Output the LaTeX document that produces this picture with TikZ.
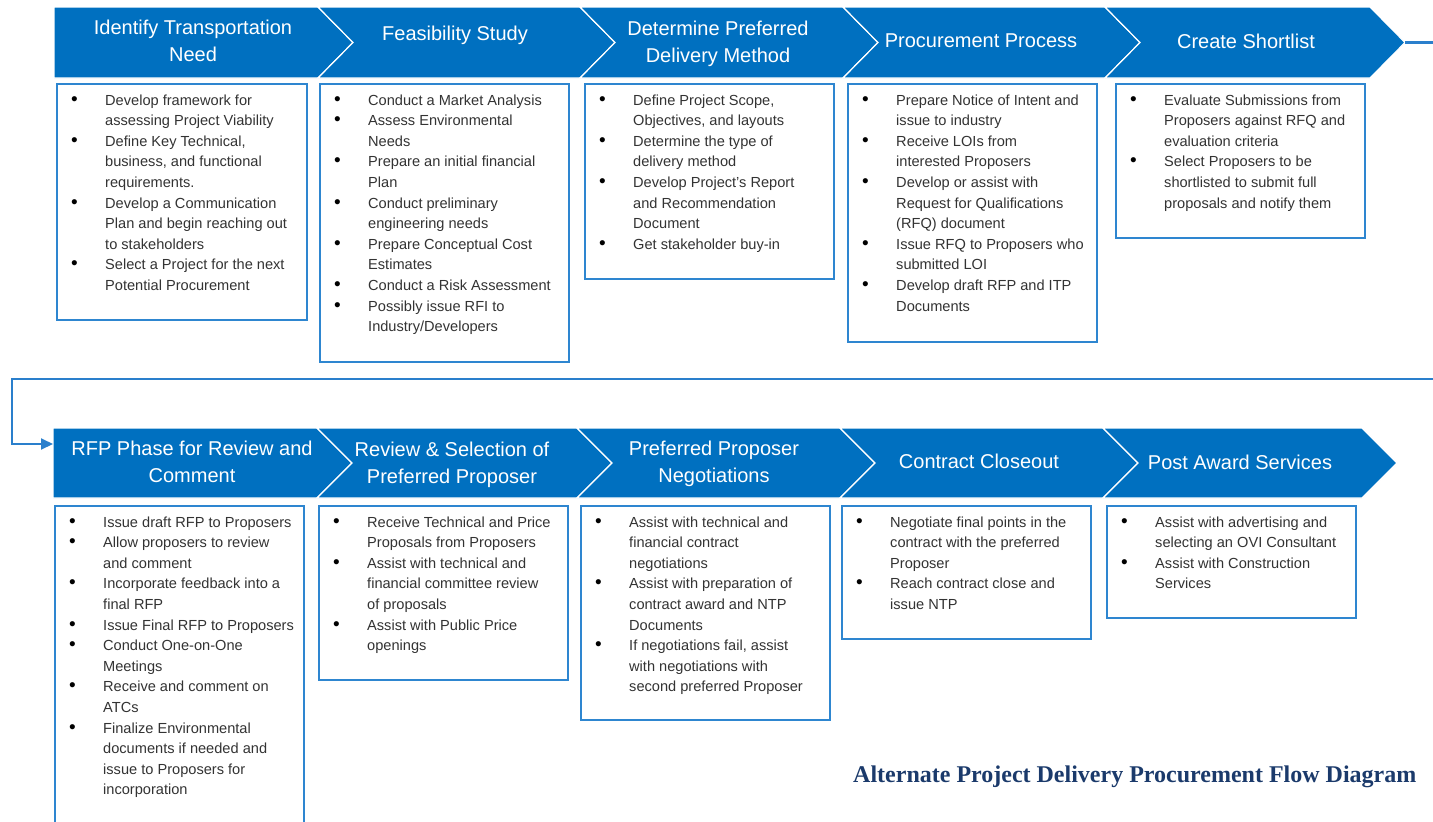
\documentclass[tikz,border=0pt]{standalone}
\usepackage{fontspec}
\setmainfont{Liberation Sans}
\newfontfamily\titlefont{Liberation Serif}
\usetikzlibrary{arrows.meta}

\definecolor{chevblue}{HTML}{0070C0}
\definecolor{boxline}{HTML}{2E86D0}
\definecolor{bodytext}{HTML}{333333}
\definecolor{titlenavy}{HTML}{1B3A6B}
\definecolor{flowblue}{HTML}{2A7FCC}

\tikzset{
  chevstyle/.style={fill=chevblue, draw=white, line width=1.2pt, line join=miter},
  hdrtext/.style={inner sep=0pt, text=white, font=\fontsize{20}{27}\selectfont},
  boxstyle/.style={draw=boxline, line width=1.4pt, fill=white},
  bodystyle/.style={inner sep=0pt, text=bodytext, font=\fontsize{14.6}{20.6}\selectfont},
  flowline/.style={draw=flowblue, line width=2.1pt},
  titlestyle/.style={inner sep=0pt, text=titlenavy, font=\titlefont\bfseries\fontsize{24}{28}\selectfont}
}

% chevron: #1 left x, #2 right x (shoulder), #3 top y, #4 bottom y, #5 notch depth on the left
\newcommand\chevshape[5]{%
  \path[chevstyle] (#1,#3) -- (#2,#3) -- ({#2+35},{(#3+#4)/2}) -- (#2,#4)
    -- (#1,#4) -- ({#1+#5},{(#3+#4)/2}) -- cycle;}

% step heading: #1 name, #2 centre x, #3 first baseline y, #4 lines
\newcommand\hdr[4]{%
  \node[hdrtext, anchor=base] (#1) at (#2,#3)
    {\begin{tabular}[t]{@{}c@{}}#4\end{tabular}};}

% bullet box: #1 name, #2 left, #3 top, #4 right, #5 bottom, #6 rows
\newcommand\infobox[6]{%
  \draw[boxstyle] (#2,#3) rectangle (#4,#5);
  \node[bodystyle, anchor=base west] (#1) at ({#2+14},{#3+21})
    {\begin{tabular}[t]{@{}p{34pt}@{}l@{}}#6\end{tabular}};}
\newcommand\bu{\leavevmode{\fontsize{19}{19}\selectfont\color{black}\textbullet} &}

\begin{document}
\begin{tikzpicture}[x=1pt, y=-1pt]
\useasboundingbox (0,0) rectangle (1433,822);
\clip (0,0) rectangle (1433,822);

% ---------- first row of steps ----------
\chevshape{54}{318}{7}{78}{0}
\chevshape{318}{580}{7}{78}{35}
\chevshape{580}{843}{7}{78}{35}
\chevshape{843}{1105}{7}{78}{35}
\chevshape{1105}{1370}{7}{78}{35}
\coordinate (tip5) at (1405,42.5);

\hdr{h1}{193}{34}{Identify Transportation\\Need}
\hdr{h2}{455}{40}{Feasibility Study}
\hdr{h3}{718}{35}{Determine Preferred\\Delivery Method}
\hdr{h4}{981}{47}{Procurement Process}
\hdr{h5}{1246}{48}{Create Shortlist}

% ---------- second row of steps ----------
\chevshape{53}{317}{428}{498}{0}
\chevshape{317}{577}{428}{498}{35}
\chevshape{577}{840}{428}{498}{35}
\chevshape{840}{1103}{428}{498}{35}
\chevshape{1103}{1362}{428}{498}{35}
\coordinate (in6) at (53,444);

\hdr{h6}{192}{455}{RFP Phase for Review and\\Comment}
\hdr{h7}{452}{456}{Review \& Selection of\\Preferred Proposer}
\hdr{h8}{714}{455}{Preferred Proposer\\Negotiations}
\hdr{h9}{979}{468}{Contract Closeout}
\hdr{h10}{1240}{469}{Post Award Services}

% ---------- wrap-around connector ----------
\coordinate (c1) at (1445,42.5);
\coordinate (c2) at (12,379);
\draw[flowline, -{Triangle[length=12pt,width=11pt]}]
  (tip5) -- (c1) |- (c2) |- (in6);

% ---------- task boxes, first row ----------
\infobox{b1}{57}{84}{307}{320}{%
\bu Develop framework for\\
 & assessing Project Viability\\
\bu Define Key Technical,\\
 & business, and functional\\
 & requirements.\\
\bu Develop a Communication\\
 & Plan and begin reaching out\\
 & to stakeholders\\
\bu Select a Project for the next\\
 & Potential Procurement}

\infobox{b2}{320}{84}{569}{362}{%
\bu Conduct a Market Analysis\\
\bu Assess Environmental\\
 & Needs\\
\bu Prepare an initial financial\\
 & Plan\\
\bu Conduct preliminary\\
 & engineering needs\\
\bu Prepare Conceptual Cost\\
 & Estimates\\
\bu Conduct a Risk Assessment\\
\bu Possibly issue RFI to\\
 & Industry/Developers}

\infobox{b3}{585}{84}{834}{279}{%
\bu Define Project Scope,\\
 & Objectives, and layouts\\
\bu Determine the type of\\
 & delivery method\\
\bu Develop Project’s Report\\
 & and Recommendation\\
 & Document\\
\bu Get stakeholder buy-in}

\infobox{b4}{848}{84}{1097}{342}{%
\bu Prepare Notice of Intent and\\
 & issue to industry\\
\bu Receive LOIs from\\
 & interested Proposers\\
\bu Develop or assist with\\
 & Request for Qualifications\\
 & (RFQ) document\\
\bu Issue RFQ to Proposers who\\
 & submitted LOI\\
\bu Develop draft RFP and ITP\\
 & Documents}

\infobox{b5}{1116}{84}{1365}{238}{%
\bu Evaluate Submissions from\\
 & Proposers against RFQ and\\
 & evaluation criteria\\
\bu Select Proposers to be\\
 & shortlisted to submit full\\
 & proposals and notify them}

% ---------- task boxes, second row ----------
\infobox{b6}{55}{506}{304}{840}{%
\bu Issue draft RFP to Proposers\\
\bu Allow proposers to review\\
 & and comment\\
\bu Incorporate feedback into a\\
 & final RFP\\
\bu Issue Final RFP to Proposers\\
\bu Conduct One-on-One\\
 & Meetings\\
\bu Receive and comment on\\
 & ATCs\\
\bu Finalize Environmental\\
 & documents if needed and\\
 & issue to Proposers for\\
 & incorporation}

\infobox{b7}{319}{506}{568}{680}{%
\bu Receive Technical and Price\\
 & Proposals from Proposers\\
\bu Assist with technical and\\
 & financial committee review\\
 & of proposals\\
\bu Assist with Public Price\\
 & openings}

\infobox{b8}{581}{506}{830}{720}{%
\bu Assist with technical and\\
 & financial contract\\
 & negotiations\\
\bu Assist with preparation of\\
 & contract award and NTP\\
 & Documents\\
\bu If negotiations fail, assist\\
 & with negotiations with\\
 & second preferred Proposer}

\infobox{b9}{842}{506}{1091}{639}{%
\bu Negotiate final points in the\\
 & contract with the preferred\\
 & Proposer\\
\bu Reach contract close and\\
 & issue NTP}

\infobox{b10}{1107}{506}{1356}{618}{%
\bu Assist with advertising and\\
 & selecting an OVI Consultant\\
\bu Assist with Construction\\
 & Services}

% ---------- caption ----------
\node[titlestyle, anchor=base west] (ttl) at (853,782)
  {Alternate Project Delivery Procurement Flow Diagram};
\end{tikzpicture}
\end{document}
